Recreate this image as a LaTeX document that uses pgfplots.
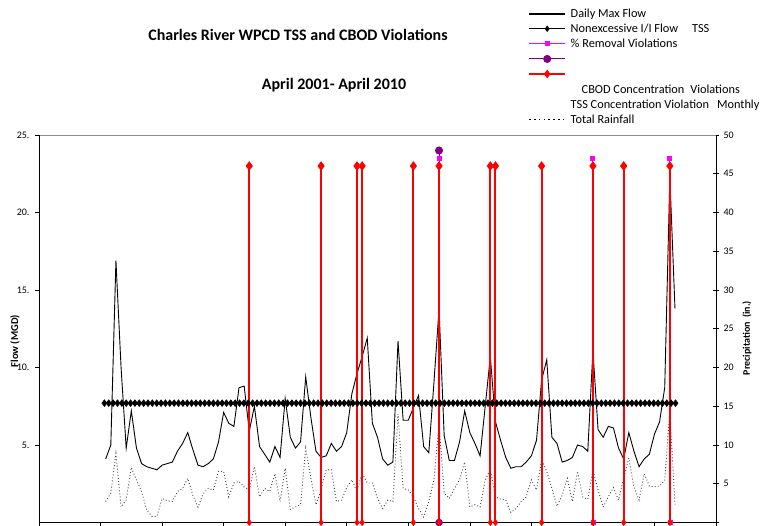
\documentclass[border=0pt]{standalone}
\usepackage{pgfplots}
\pgfplotsset{compat=1.18}
\usepackage{pgfplotstable}
\usepackage{fontspec}
\setmainfont{Carlito}
\definecolor{xlred}{RGB}{255,0,0}
\definecolor{xlmag}{RGB}{255,0,255}
\definecolor{xlpur}{RGB}{128,0,128}

\pgfplotstableread{
m v
13 4.1
14 5.0
15 16.9
16 10.0
17 4.8
18 7.2
19 4.8
20 3.8
21 3.6
22 3.5
23 3.4
24 3.7
25 3.8
26 3.9
27 4.6
28 5.1
29 5.8
30 4.7
31 3.7
32 3.6
33 3.8
34 4.1
35 5.2
36 7.1
37 6.4
38 6.2
39 8.7
40 8.8
41 5.9
42 7.5
43 4.9
44 4.4
45 3.9
46 4.9
47 4.2
48 8.0
49 5.5
50 4.8
51 5.2
52 9.4
53 6.8
54 4.6
55 4.2
56 4.3
57 5.1
58 4.6
59 4.9
60 5.8
61 8.3
62 9.6
63 10.7
64 11.9
65 6.4
66 5.5
67 4.1
68 3.7
69 3.9
70 11.7
71 6.6
72 6.6
73 7.4
74 8.2
75 4.9
76 4.5
77 9.0
78 13.8
79 5.6
80 4.0
81 4.0
82 5.2
83 7.2
84 5.8
85 5.1
86 4.3
87 7.5
88 10.7
89 6.5
90 5.3
91 4.2
92 3.5
93 3.6
94 3.6
95 3.9
96 4.3
97 5.3
98 9.2
99 10.5
100 5.5
101 5.1
102 3.9
103 4.0
104 4.2
105 5.0
106 4.9
107 4.6
108 11.1
109 6.0
110 5.5
111 6.2
112 6.1
113 4.8
114 4.1
115 5.8
116 4.6
117 3.6
118 4.1
119 4.4
120 5.7
121 6.5
122 8.7
123 22.3
124 13.8
}\flowtable

\pgfplotstableread{
m r
13 2.7
14 3.8
15 8.9
16 2.0
17 2.9
18 7.1
19 5.5
20 4.0
21 1.6
22 0.8
23 0.8
24 3.1
25 2.8
26 2.7
27 4.0
28 4.4
29 5.7
30 3.5
31 2.0
32 3.7
33 4.4
34 4.2
35 6.6
36 6.6
37 3.3
38 5.1
39 5.3
40 4.6
41 4.2
42 7.2
43 3.3
44 4.4
45 4.0
46 6.3
47 2.7
48 7.0
49 1.7
50 2.0
51 2.3
52 9.6
53 5.7
54 2.3
55 4.2
56 6.8
57 6.8
58 2.7
59 2.9
60 4.5
61 5.5
62 4.0
63 6.4
64 5.1
65 5.1
66 3.1
67 1.8
68 2.9
69 2.7
70 14.0
71 4.4
72 4.2
73 3.3
74 1.8
75 0.7
76 2.7
77 5.5
78 12.8
79 3.8
80 3.1
81 4.4
82 5.5
83 7.8
84 2.0
85 2.3
86 2.0
87 5.5
88 6.8
89 3.3
90 3.0
91 2.9
92 1.3
93 1.8
94 2.7
95 3.3
96 5.5
97 4.2
98 8.1
99 6.6
100 4.4
101 2.1
102 3.5
103 5.7
104 2.7
105 6.6
106 3.3
107 3.0
108 6.8
109 4.2
110 2.0
111 3.3
112 4.5
113 2.9
114 5.7
115 8.3
116 4.6
117 2.9
118 6.3
119 4.7
120 4.6
121 4.7
122 5.5
123 14.5
124 2.3
}\raintable

\pgfplotstableread{
x y
12.75 7.7
13.6 7.7
14.45 7.7
15.3 7.7
16.15 7.7
17.0 7.7
17.85 7.7
18.7 7.7
19.55 7.7
20.4 7.7
21.25 7.7
22.1 7.7
22.95 7.7
23.8 7.7
24.65 7.7
25.5 7.7
26.35 7.7
27.2 7.7
28.05 7.7
28.9 7.7
29.75 7.7
30.6 7.7
31.45 7.7
32.3 7.7
33.15 7.7
34.0 7.7
34.85 7.7
35.7 7.7
36.55 7.7
37.4 7.7
38.25 7.7
39.1 7.7
39.95 7.7
40.8 7.7
41.65 7.7
42.5 7.7
43.35 7.7
44.2 7.7
45.05 7.7
45.9 7.7
46.75 7.7
47.6 7.7
48.45 7.7
49.3 7.7
50.15 7.7
51.0 7.7
51.85 7.7
52.7 7.7
53.55 7.7
54.4 7.7
55.25 7.7
56.1 7.7
56.95 7.7
57.8 7.7
58.65 7.7
59.5 7.7
60.35 7.7
61.2 7.7
62.05 7.7
62.9 7.7
63.75 7.7
64.6 7.7
65.45 7.7
66.3 7.7
67.15 7.7
68.0 7.7
68.85 7.7
69.7 7.7
70.55 7.7
71.4 7.7
72.25 7.7
73.1 7.7
73.95 7.7
74.8 7.7
75.65 7.7
76.5 7.7
77.35 7.7
78.2 7.7
79.05 7.7
79.9 7.7
80.75 7.7
81.6 7.7
82.45 7.7
83.3 7.7
84.15 7.7
85.0 7.7
85.85 7.7
86.7 7.7
87.55 7.7
88.4 7.7
89.25 7.7
90.1 7.7
90.95 7.7
91.8 7.7
92.65 7.7
93.5 7.7
94.35 7.7
95.2 7.7
96.05 7.7
96.9 7.7
97.75 7.7
98.6 7.7
99.45 7.7
100.3 7.7
101.15 7.7
102.0 7.7
102.85 7.7
103.7 7.7
104.55 7.7
105.4 7.7
106.25 7.7
107.1 7.7
107.95 7.7
108.8 7.7
109.65 7.7
110.5 7.7
111.35 7.7
112.2 7.7
113.05 7.7
113.9 7.7
114.75 7.7
115.6 7.7
116.45 7.7
117.3 7.7
118.15 7.7
119.0 7.7
119.85 7.7
120.7 7.7
121.55 7.7
122.4 7.7
123.25 7.7
124.1 7.7
}\nonexctable

% CBOD concentration violations (month index, top value on flow axis)
\pgfplotstableread{
m top low
41 23 0
55 23 0
62 23 0
63 23 0
73 23 0
78 23 0
88 23 0
89 23 0
98 23 0
108 23 0
114 23 0
123 23 0
}\cbodtable

\pgfplotstableread{
m top low
78 23.5 0
108 23.5 0
123 23.5 0
}\remtable

\begin{document}
\begin{tikzpicture}

\node[font=\bfseries\fontsize{16}{19}\selectfont] at (298pt,490pt) {Charles River WPCD TSS and CBOD Violations};
\node[font=\bfseries\fontsize{16}{19}\selectfont] at (334pt,440pt) {April 2001- April 2010};

% right axis: rainfall
\begin{axis}[
  at={(39pt,2.5pt)}, anchor=south west,
  scale only axis, width=677pt, height=387.5pt,
  xmin=0, xmax=132, ymin=0, ymax=50,
  axis x line*=top, axis y line*=right,
  axis line style={-},
  x axis line style={black!45},
  y axis line style={black, line width=0.8pt},
  xtick=\empty,
  ytick={0,5,...,50},
  yticklabels={,5,10,15,20,25,30,35,40,45,50},
  tick align=center, major tick length=6pt,
  ytick style={black, line width=0.6pt},
  /pgf/number format/assume math mode=true,
  yticklabel style={font=\fontsize{10}{12}\selectfont, xshift=1pt},
  ylabel={Precipitation\ \ (in.)},
  ylabel style={font=\bfseries\fontsize{10}{12}\selectfont, at={(axis description cs:1.0458,0.476)}, anchor=center},
  clip=false,
]
\addplot[black!75, line width=0.9pt, dash pattern=on 0.9pt off 2.2pt] table[x=m,y=r] {\raintable};
\end{axis}

% left axis: flow and violations
\begin{axis}[
  at={(39pt,2.5pt)}, anchor=south west,
  scale only axis, width=677pt, height=387.5pt,
  xmin=0, xmax=132, ymin=0, ymax=25,
  axis x line*=bottom, axis y line*=left,
  axis line style={-, black, line width=0.8pt},
  xtick={0,12,...,132}, xticklabels={},
  ytick={5,10,15,20,25},
  yticklabels={5.,10.,15.,20.,25.},
  tick align=outside, major tick length=4pt,
  tick style={black, line width=0.6pt},
  /pgf/number format/assume math mode=true,
  yticklabel style={font=\fontsize{10}{12}\selectfont, xshift=-2pt},
  ylabel={Flow (MGD)},
  ylabel style={font=\bfseries\fontsize{10.5}{12}\selectfont, at={(axis description cs:-0.0355,0.468)}, anchor=center},
  clip=false,
  legend image code/.code={\draw[mark repeat=2,mark phase=2,#1] plot coordinates {(0pt,0pt) (18pt,0pt) (36pt,0pt)};},
  legend cell align=left,
  legend style={draw=none, fill=none, at={(axis description cs:0.7179,1.3386)}, anchor=north west,
    font=\fontsize{12.3}{14}\selectfont, row sep=-0.2pt, column sep=2.5pt},
]
\addplot[black, line width=0.9pt, forget plot] table[x=m,y=v] {\flowtable};
\addplot[black, line width=0.8pt, mark=diamond*, mark size=3.2pt, forget plot] table[x=x,y=y] {\nonexctable};
% % removal violations
\addplot[xlmag, line width=1pt, ycomb, mark=square*, mark size=2pt, forget plot] table[x=m,y=top] {\remtable};
\addplot[xlmag, only marks, mark=square*, mark size=2pt, forget plot] table[x=m,y=low] {\remtable};
% purple series
\addplot[xlpur, line width=1pt, ycomb, mark=*, mark size=3.5pt, forget plot] coordinates {(78,24)};
\addplot[xlpur, only marks, mark=*, mark size=3.5pt, forget plot] coordinates {(78,0)};
% CBOD concentration violations
\addplot[xlred, line width=2pt, ycomb, mark=diamond*, mark size=3.2pt, forget plot] table[x=m,y=top] {\cbodtable};
\addplot[xlred, only marks, mark=diamond*, mark size=3.2pt, forget plot] table[x=m,y=low] {\cbodtable};

\addlegendimage{black, line width=2pt}
\addlegendentry{\strut Daily Max Flow}
\addlegendimage{black, line width=0.8pt, mark=diamond*, mark size=2.6pt}
\addlegendentry{\strut Nonexcessive I/I Flow\hspace{14pt}TSS}
\addlegendimage{xlmag, line width=1pt, mark=square*, mark size=2pt}
\addlegendentry{\strut\% Removal Violations}
\addlegendimage{xlpur, line width=1pt, mark=*, mark size=3.5pt}
\addlegendentry{\strut}
\addlegendimage{xlred, line width=1.4pt, mark=diamond*, mark size=3.2pt}
\addlegendentry{\strut}
\addlegendimage{empty legend}
\addlegendentry{\strut\hspace{11pt}CBOD Concentration\hspace{6pt}Violations}
\addlegendimage{empty legend}
\addlegendentry{\strut TSS Concentration Violation\hspace{8pt}Monthly}
\addlegendimage{black, line width=1.5pt, dash pattern=on 1.5pt off 3.3pt}
\addlegendentry{\strut Total Rainfall}
\end{axis}

\pgfresetboundingbox
\useasboundingbox (0,0) rectangle (765pt,525pt);
\end{tikzpicture}
\end{document}
